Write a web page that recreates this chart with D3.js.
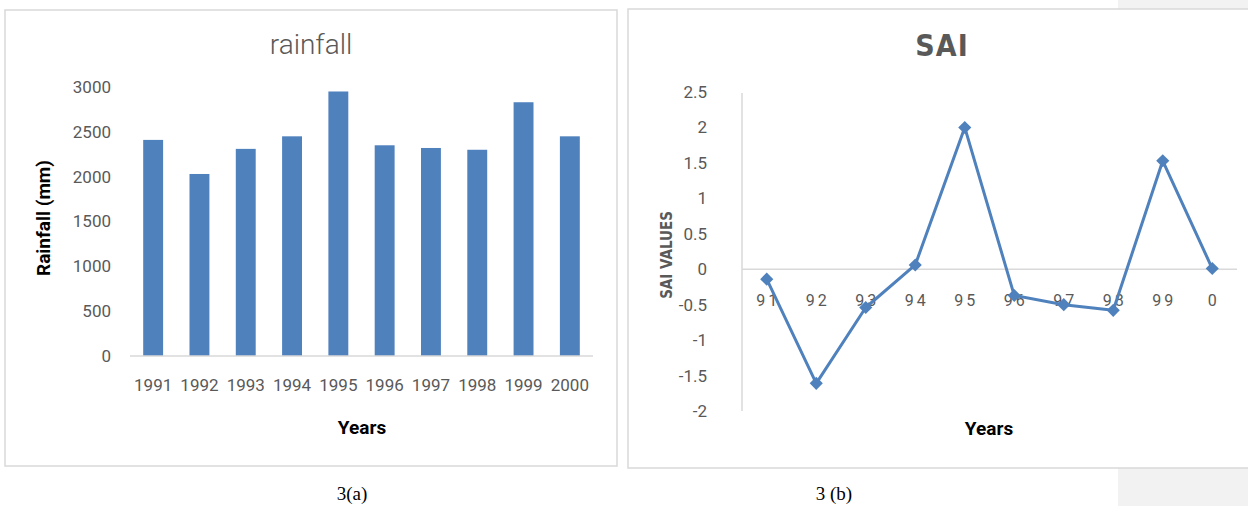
<!DOCTYPE html>
<html><head><meta charset="utf-8">
<script src="https://cdn.jsdelivr.net/npm/d3@7"></script>
<style>body{margin:0;background:#fff;}svg{display:block;}</style>
</head><body>
<svg id="c" width="1248" height="506"></svg>
<script>
const years = ["1991","1992","1993","1994","1995","1996","1997","1998","1999","2000"];
const rainfall = [2410,2030,2310,2450,2950,2350,2320,2300,2830,2450];
const rainTicks = [0,500,1000,1500,2000,2500,3000];
const saiLabels = ["91","92","93","94","95","96","97","98","99","0"];
const saiValues = [-0.14,-1.61,-0.54,0.06,2.0,-0.37,-0.50,-0.58,1.53,0.01];
const saiTicks = [-2,-1.5,-1,-0.5,0,0.5,1,1.5,2,2.5];

const svg = d3.select("#c");
const blue = "#4f81bd", grid = "#d9d9d9", txt = "#595959";
const cond = "'DejaVu Sans Condensed','DejaVu Sans',sans-serif";

svg.append("rect").attr("x",1118).attr("y",0).attr("width",130).attr("height",506).attr("fill","#f2f2f2");
svg.append("rect").attr("x",0).attr("y",0).attr("width",1118).attr("height",506).attr("fill","#fff");

svg.append("rect").attr("x",5).attr("y",10).attr("width",612).attr("height",456).attr("fill","#fff").attr("stroke",grid).attr("stroke-width",1.5);
svg.append("rect").attr("x",628).attr("y",9).attr("width",640).attr("height",459).attr("fill","#fff").attr("stroke",grid).attr("stroke-width",1.5);

// ---- Chart a: rainfall bars
const xa = d3.scaleBand().domain(years).range([130,593]).paddingInner(0.57).paddingOuter(0.285);
const ya = d3.scaleLinear().domain([0,3000]).range([356,87]);
const ga = svg.append("g");
ga.append("text").attr("x",311).attr("y",54).attr("text-anchor","middle").attr("font-family","Roboto").attr("font-weight",300).attr("font-size",28).attr("fill",txt).text("rainfall");
ga.selectAll("rect.bar").data(years).join("rect").attr("class","bar")
  .attr("x",d=>xa(d)).attr("width",xa.bandwidth())
  .attr("y",(d,i)=>ya(rainfall[i])).attr("height",(d,i)=>ya(0)-ya(rainfall[i])).attr("fill",blue);
const axA = ga.append("g").attr("transform","translate(0,356)").call(d3.axisBottom(xa).tickSize(0).tickPadding(23));
axA.select(".domain").attr("stroke",grid).attr("stroke-width",1.5).attr("d","M130,0H593");
axA.selectAll("text").attr("font-family","Roboto").attr("font-size",17).attr("fill",txt);
const ayA = ga.append("g").attr("transform","translate(111,0)").call(d3.axisLeft(ya).tickValues(rainTicks).tickSize(0).tickPadding(0).tickFormat(d3.format("d")));
ayA.select(".domain").remove();
ayA.selectAll("text").attr("font-family","Roboto").attr("font-size",17).attr("fill",txt);
ga.append("text").attr("transform","translate(50,218) rotate(-90)").attr("text-anchor","middle").attr("font-family","Roboto").attr("font-weight",700).attr("font-size",19).attr("fill","#000").text("Rainfall (mm)");
ga.append("text").attr("x",362).attr("y",434).attr("text-anchor","middle").attr("font-family","Roboto").attr("font-weight",700).attr("font-size",19).attr("fill","#000").text("Years");

// ---- Chart b: SAI line
const xb = d3.scalePoint().domain(saiLabels).range([766.75,1212.25]);
const yb = d3.scaleLinear().domain([-2,2.5]).range([411,92]);
const gb = svg.append("g");
gb.append("text").attr("x",942).attr("y",56).attr("text-anchor","middle").attr("font-family",cond).attr("font-stretch","condensed").attr("font-weight",700).attr("font-size",30).attr("letter-spacing",1).attr("fill",txt).text("SAI");
gb.append("line").attr("x1",742).attr("x2",1237).attr("y1",yb(0)).attr("y2",yb(0)).attr("stroke",grid).attr("stroke-width",1.5);
const ayB = gb.append("g").attr("transform","translate(742,0)").call(d3.axisLeft(yb).tickValues(saiTicks).tickSize(0).tickPadding(35).tickFormat(d=>String(d)));
ayB.select(".domain").attr("stroke",grid).attr("stroke-width",1.5).attr("d","M0,93V411");
ayB.selectAll("text").attr("font-family","Roboto").attr("font-size",17).attr("fill",txt);
gb.selectAll("text.xl").data(saiLabels).join("text").attr("class","xl")
  .attr("x",d=>xb(d)+1.5).attr("y",306).attr("text-anchor","middle").attr("font-family","Roboto").attr("font-size",16).attr("letter-spacing",3).attr("fill",txt).text(d=>d);
gb.append("text").attr("transform","translate(672,255) rotate(-90)").attr("text-anchor","middle").attr("font-family",cond).attr("font-stretch","condensed").attr("font-weight",700).attr("font-size",15).attr("fill",txt).text("SAI VALUES");
gb.append("text").attr("x",989).attr("y",435).attr("text-anchor","middle").attr("font-family","Roboto").attr("font-weight",700).attr("font-size",19).attr("fill","#000").text("Years");
const line = d3.line().x((d,i)=>xb(saiLabels[i])).y(d=>yb(d));
gb.append("path").datum(saiValues).attr("d",line).attr("fill","none").attr("stroke",blue).attr("stroke-width",3).attr("stroke-linejoin","round");
gb.selectAll("path.m").data(saiValues).join("path").attr("class","m")
  .attr("transform",(d,i)=>`translate(${xb(saiLabels[i])},${yb(d)})`)
  .attr("d",d3.symbol(d3.symbolDiamond2,110)()).attr("fill",blue);

svg.append("text").attr("x",352).attr("y",500).attr("text-anchor","middle").attr("font-family","Liberation Serif").attr("font-size",19).attr("fill","#000").text("3(a)");
svg.append("text").attr("x",834).attr("y",500).attr("text-anchor","middle").attr("font-family","Liberation Serif").attr("font-size",19).attr("fill","#000").text("3 (b)");
</script>
</body></html>
